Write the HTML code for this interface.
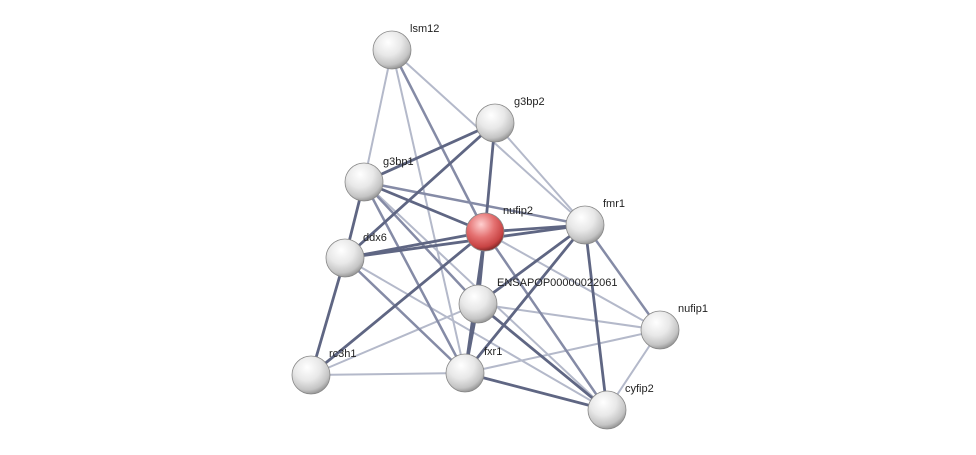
<!DOCTYPE html>
<html><head><meta charset="utf-8"><style>
html,body{margin:0;padding:0;background:#fff;width:976px;height:455px;overflow:hidden}
text{font-family:"Liberation Sans",sans-serif;font-size:11px;fill:#222}
</style></head><body>
<svg width="976" height="455" viewBox="0 0 976 455" xmlns="http://www.w3.org/2000/svg">
<defs>
<radialGradient id="w" cx="40%" cy="30%" r="70%">
<stop offset="0" stop-color="#ffffff"/><stop offset="0.5" stop-color="#e8e8e8"/><stop offset="0.85" stop-color="#c4c4c4"/><stop offset="1" stop-color="#9a9a9a"/></radialGradient>
<radialGradient id="r" cx="40%" cy="30%" r="70%">
<stop offset="0" stop-color="#ffd0d0"/><stop offset="0.5" stop-color="#e47070"/><stop offset="0.85" stop-color="#c84444"/><stop offset="1" stop-color="#8a2a2a"/></radialGradient>
</defs>
<g stroke-linecap="round">
<g stroke="#b4b9ca" stroke-width="2">
<line x1="392" y1="50" x2="364" y2="182"/><line x1="392" y1="50" x2="585" y2="225"/>
<line x1="392" y1="50" x2="465" y2="373"/><line x1="495" y1="123" x2="585" y2="225"/>
<line x1="364" y1="182" x2="607" y2="410"/><line x1="478" y1="304" x2="660" y2="330"/>
<line x1="311" y1="375" x2="465" y2="373"/><line x1="311" y1="375" x2="478" y2="304"/>
<line x1="465" y1="373" x2="660" y2="330"/><line x1="607" y1="410" x2="660" y2="330"/>
<line x1="345" y1="258" x2="607" y2="410"/><line x1="485" y1="232" x2="660" y2="330"/>
</g>
<g stroke="#858ba6" stroke-width="2.5">
<line x1="392" y1="50" x2="485" y2="232"/><line x1="364" y1="182" x2="465" y2="373"/>
<line x1="345" y1="258" x2="465" y2="373"/><line x1="485" y1="232" x2="607" y2="410"/>
<line x1="585" y1="225" x2="660" y2="330"/><line x1="364" y1="182" x2="478" y2="304"/>
<line x1="364" y1="182" x2="585" y2="225"/>
</g>
<g stroke="#5f6683" stroke-width="2.8">
<line x1="495" y1="123" x2="364" y2="182"/><line x1="495" y1="123" x2="485" y2="232"/>
<line x1="495" y1="123" x2="345" y2="258"/><line x1="364" y1="182" x2="485" y2="232"/>
<line x1="364" y1="182" x2="345" y2="258"/>
<line x1="345" y1="258" x2="485" y2="232"/><line x1="345" y1="258" x2="585" y2="225"/>
<line x1="345" y1="258" x2="311" y2="375"/><line x1="485" y1="232" x2="585" y2="225"/>
<line x1="485" y1="232" x2="478" y2="304"/><line x1="485" y1="232" x2="465" y2="373"/>
<line x1="485" y1="232" x2="311" y2="375"/><line x1="585" y1="225" x2="478" y2="304"/>
<line x1="585" y1="225" x2="465" y2="373"/><line x1="585" y1="225" x2="607" y2="410"/>
<line x1="478" y1="304" x2="465" y2="373"/><line x1="465" y1="373" x2="607" y2="410"/>
<line x1="478" y1="304" x2="607" y2="410"/>
</g>
</g>
<g stroke="#888" stroke-width="0.8">
<circle cx="392" cy="50" r="19" fill="url(#w)"/>
<circle cx="495" cy="123" r="19" fill="url(#w)"/>
<circle cx="364" cy="182" r="19" fill="url(#w)"/>
<circle cx="585" cy="225" r="19" fill="url(#w)"/>
<circle cx="345" cy="258" r="19" fill="url(#w)"/>
<circle cx="478" cy="304" r="19" fill="url(#w)"/>
<circle cx="660" cy="330" r="19" fill="url(#w)"/>
<circle cx="311" cy="375" r="19" fill="url(#w)"/>
<circle cx="465" cy="373" r="19" fill="url(#w)"/>
<circle cx="607" cy="410" r="19" fill="url(#w)"/>
<circle cx="485" cy="232" r="19" fill="url(#r)"/>
</g>
<text x="410" y="32">lsm12</text>
<text x="514" y="105">g3bp2</text>
<text x="383" y="165">g3bp1</text>
<text x="503" y="214">nufip2</text>
<text x="603" y="207">fmr1</text>
<text x="363" y="241">ddx6</text>
<text x="497" y="286">ENSAPOP00000022061</text>
<text x="678" y="312">nufip1</text>
<text x="329" y="357">rc3h1</text>
<text x="484" y="355">fxr1</text>
<text x="625" y="392">cyfip2</text>
</svg>
</body></html>
